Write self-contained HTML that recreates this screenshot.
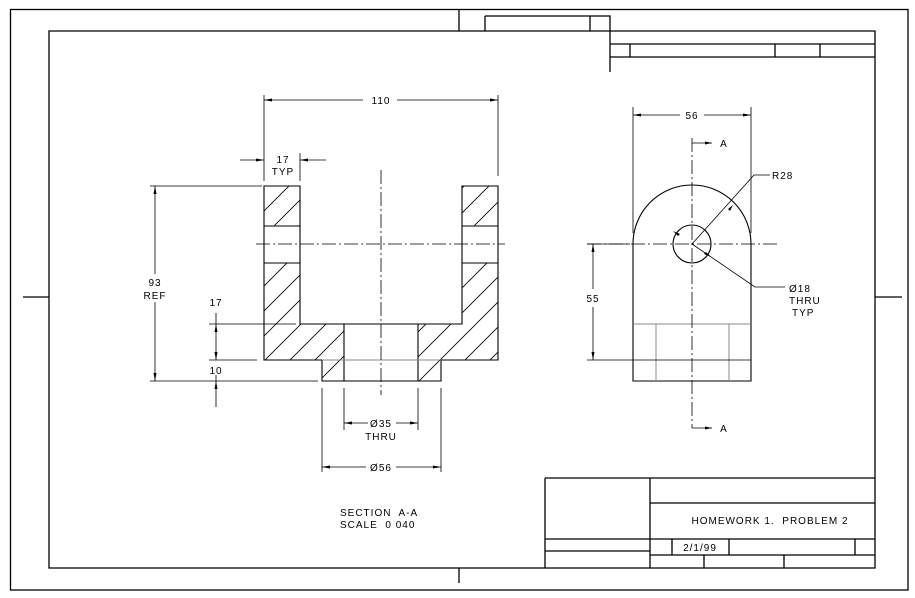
<!DOCTYPE html>
<html><head><meta charset="utf-8"><style>
html,body{margin:0;padding:0;background:#fff;}
svg{display:block;}
text{font-family:"Liberation Sans",sans-serif;font-size:10px;fill:#000;letter-spacing:1px;white-space:pre;}
</style></head><body>
<svg width="915" height="598" viewBox="0 0 915 598" xmlns="http://www.w3.org/2000/svg">
<defs>
<pattern id="h" patternUnits="userSpaceOnUse" width="25" height="25">
<path d="M-1,26 L26,-1 M-3,3 L3,-3 M22,28 L28,22" stroke="#000" stroke-width="0.8"/>
</pattern>
</defs>
<g fill="none" stroke="#000" stroke-width="1.3">
<rect x="10.5" y="9.5" width="897.5" height="580.5"/>
<path d="M49,31 H875 V568 H49 Z"/>
<path d="M23,297 H49 M875,297 H902 M459,10 V31 M459,568 V583"/>
<path d="M485,16 H610 V72 M485,16 V31 M590,16 V31 M610,44 H875 M610,57 H875 M630,44 V57 M775,44 V57 M820,44 V57"/>
<path d="M545,478 H875 M545,478 V568 M650,478 V568 M650,503 H875 M545,539 H875 M545,551 H650 M650,555 H875 M672,539 V555 M729,539 V555 M855,539 V555 M704,555 V568 M784,555 V568"/>
</g>
<g fill="url(#h)" stroke="none">
<rect x="264" y="186" width="36" height="40"/>
<rect x="264" y="263" width="36" height="61"/>
<rect x="462" y="186" width="36" height="40"/>
<rect x="462" y="263" width="36" height="61"/>
<rect x="264" y="324" width="80" height="36"/>
<rect x="418" y="324" width="80" height="36"/>
<rect x="322" y="360" width="22" height="21"/>
<rect x="418" y="360" width="23" height="21"/>
</g>
<g fill="none" stroke="#000" stroke-width="1.1">
<path d="M264,186 H300 V324 H462 V186 H498 V360 H441 V381 H322 V360 H264 Z"/>
<path d="M264,226 H300 M264,263 H300 M462,226 H498 M462,263 H498 M344,324 V381 M418,324 V381"/>
</g>
<path d="M322,360 H441" stroke="#888" stroke-width="1"/>
<g stroke="#000" stroke-width="0.8" fill="none">
<path d="M256,244 H505" stroke-dasharray="14,3,2,3"/>
<path d="M381,170 V395" stroke-dasharray="14,3,2,3"/>
<path d="M264,95 V181 M498,95 V176 M264,100 H363 M397,100 H498"/>
<path d="M240,160 H264 M300,160 H326 M300,153 V181"/>
<path d="M150,186 H262 M150,381 H318 M155,186 V274 M155,302 V381"/>
<path d="M209,324 H296 M209,360 H257 M216,313 V360 M216,375 V407"/>
<path d="M344,388 V430 M418,388 V430 M344,423 H368 M396,423 H418"/>
<path d="M322,388 V472 M441,388 V472 M322,467 H366 M396,467 H441"/>
</g>
<g fill="#000">
<path d="M264,100 l8,-1.5 v3z M498,100 l-8,-1.5 v3z M264,160 l-8,-1.5 v3z M300,160 l8,-1.5 v3z M155,186 l-1.5,8 h3z M155,381 l-1.5,-8 h3z M216,324 l-1.5,8 h3z M216,360 l-1.5,-8 h3z M216,381 l-1.5,8 h3z M344,423 l8,-1.5 v3z M418,423 l-8,-1.5 v3z M322,467 l8,-1.5 v3z M441,467 l-8,-1.5 v3z"/>
</g>
<text x="381" y="104" text-anchor="middle">110</text>
<text x="283" y="163" text-anchor="middle">17</text>
<text x="283" y="175" text-anchor="middle">TYP</text>
<text x="155" y="286" text-anchor="middle">93</text>
<text x="155" y="299" text-anchor="middle">REF</text>
<text x="216" y="306" text-anchor="middle">17</text>
<text x="216" y="374" text-anchor="middle">10</text>
<text x="381" y="427" text-anchor="middle">Ø35</text>
<text x="381" y="440" text-anchor="middle">THRU</text>
<text x="381" y="471" text-anchor="middle">Ø56</text>
<text x="340" y="516">SECTION  A-A</text>
<text x="340" y="528">SCALE  0 040</text>
<g fill="none" stroke="#000" stroke-width="1.1">
<path d="M633,381 V244 A59,59 0 0 1 751,244 V381 Z"/>
<circle cx="692" cy="244" r="19"/>
</g>
<g stroke="#888" stroke-width="1" fill="none">
<path d="M633,324 H751 M656,324 V381 M729,324 V381"/>
</g>
<g stroke="#000" stroke-width="0.8" fill="none">
<path d="M630,360 H751 M587,360 H630"/>
<path d="M587,244 H780" stroke-dasharray="14,3,2,3"/>
<path d="M692,138 V428" stroke-dasharray="14,3,2,3"/>
<path d="M692,143 H712 M692,428 H712"/>
<path d="M633,107 V233 M751,107 V233 M633,115 H680 M704,115 H751"/>
<path d="M593,244 V289 M593,307 V360 M587,244 H630"/>
<path d="M692,244 L754,175 H770 M692,244 L755,287 H785"/>
</g>
<g fill="#000">
<path d="M712,143 l-7,-1.5 v3z M712,428 l-7,-1.5 v3z M633,115 l8,-1.5 v3z M751,115 l-8,-1.5 v3z M593,244 l-1.5,8 h3z M593,360 l-1.5,-8 h3z M673,231 l7,3 l-2,2z M711,257 l-7,-3 l2,-2z M733,205 l-3,6 l-2,-2z"/>
</g>
<text x="724" y="147" text-anchor="middle">A</text>
<text x="724" y="432" text-anchor="middle">A</text>
<text x="692" y="119" text-anchor="middle">56</text>
<text x="593" y="302" text-anchor="middle">55</text>
<text x="772" y="179">R28</text>
<text x="789" y="292">Ø18</text>
<text x="789" y="304">THRU</text>
<text x="792" y="316">TYP</text>
<text x="770" y="524" text-anchor="middle">HOMEWORK 1.  PROBLEM 2</text>
<text x="700" y="551" text-anchor="middle">2/1/99</text>
</svg>
</body></html>
